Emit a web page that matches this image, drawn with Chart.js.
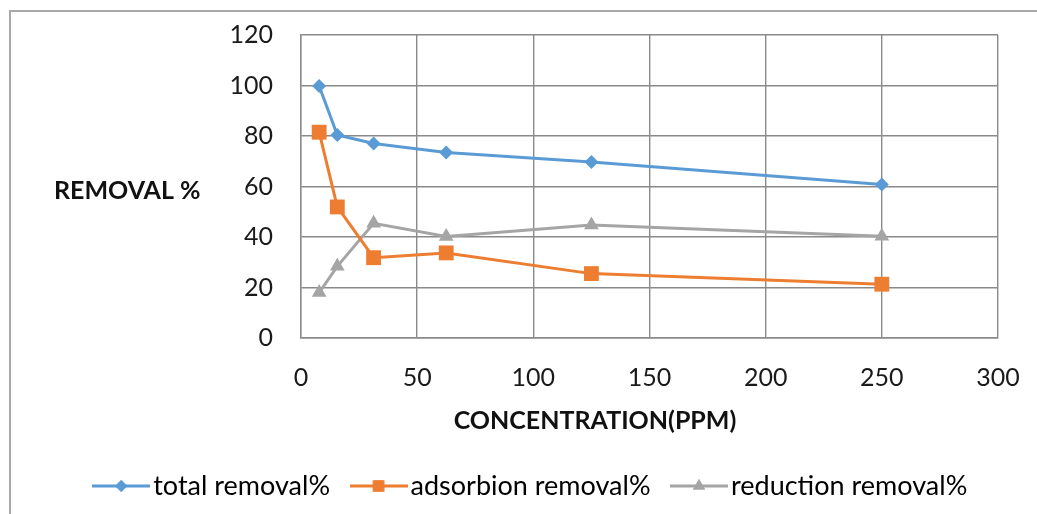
<!DOCTYPE html>
<html>
<head>
<meta charset="utf-8">
<script src="https://cdn.jsdelivr.net/npm/chart.js@4.4.1/dist/chart.umd.min.js"></script>
<style>
    html, body { margin: 0; padding: 0; background: #fff; }
    #wrap { position: relative; width: 1037px; height: 514px; }
</style>
</head>
<body>
<div id="wrap"><canvas id="chart" width="1037" height="514"></canvas></div>
<script>
// concentration (ppm) and removal percentages
const concentration = [7.8125, 15.625, 31.25, 62.5, 125, 250];
const totalRemoval = [99.8, 80.4, 77, 73.5, 69.7, 60.8];
const adsorbionRemoval = [81.5, 51.9, 31.8, 33.7, 25.5, 21.3];
const reductionRemoval = [18, 28.4, 45.4, 40.2, 44.8, 40.3];

const xTicks = [0, 50, 100, 150, 200, 250, 300];
const yTicks = [0, 20, 40, 60, 80, 100, 120];

const seriesNames = ["total removal%", "adsorbion removal%", "reduction removal%"];
const xTitle = "CONCENTRATION(PPM)";
const yTitle = "REMOVAL %";
const colors = ["#5B9BD5", "#ED7D31", "#A5A5A5"];
const markers = ["rectRot", "rect", "triangle"];
const markerSizes = [7, 10.5, 8.5];
const legendMarkerSizes = [6, 8, 7];

const FONT = "Lato, 'Liberation Sans', sans-serif";
const GRID = "#8a8a8a";

// legend swatch: short line with the series marker in the middle
function legendSwatch(color, style, r) {
    const c = document.createElement("canvas");
    c.width = 58; c.height = 18;
    const g = c.getContext("2d");
    g.strokeStyle = color;
    g.lineWidth = 3;
    g.beginPath(); g.moveTo(0, 9); g.lineTo(58, 9); g.stroke();
    g.fillStyle = color;
    Chart.helpers.drawPoint(g, { pointStyle: style, radius: r, borderWidth: 0 }, 29, 9);
    g.fill();
    return c;
}

// outer frame plus both axis titles (the y title sits horizontally, left of the ticks)
const frameAndTitles = {
    id: "frameAndTitles",
    afterDraw(chart) {
        const ctx = chart.ctx;
        ctx.save();
        ctx.strokeStyle = "#a8a8a8";
        ctx.lineWidth = 2;
        ctx.strokeRect(10, 11, 1200, 700);
        ctx.fillStyle = "#111";
        ctx.font = "bold 25px " + FONT;
        ctx.textBaseline = "middle";
        ctx.textAlign = "left";
        ctx.fillText(yTitle, 54, 191);
        ctx.textAlign = "center";
        ctx.fillText(xTitle, 595, 421);
        ctx.restore();
    }
};

const datasets = [totalRemoval, adsorbionRemoval, reductionRemoval].map((vals, i) => ({
    label: seriesNames[i],
    data: vals.map((v, k) => ({ x: concentration[k], y: v })),
    borderColor: colors[i],
    backgroundColor: colors[i],
    borderWidth: 3,
    pointStyle: markers[i],
    pointRadius: markerSizes[i],
    pointBorderWidth: 0,
    tension: 0,
}));

new Chart(document.getElementById("chart"), {
    type: "line",
    data: { datasets },
    options: {
        responsive: false,
        animation: false,
        layout: { padding: { top: 35, right: 39, left: 72, bottom: 4.5 } },
        plugins: {
            tooltip: { enabled: false },
            legend: {
                position: "bottom",
                labels: {
                    usePointStyle: true,
                    pointStyleWidth: 37,
                    padding: 30,
                    color: "#1a1a1a",
                    font: { family: FONT, size: 27 },
                    generateLabels: chart => chart.data.datasets.map((ds, i) => ({
                        text: ds.label,
                        pointStyle: legendSwatch(colors[i], markers[i], legendMarkerSizes[i]),
                        fillStyle: colors[i],
                        strokeStyle: colors[i],
                        lineWidth: 0,
                        datasetIndex: i,
                    })),
                },
            },
        },
        scales: {
            x: {
                type: "linear",
                min: xTicks[0],
                max: xTicks[xTicks.length - 1],
                afterBuildTicks: s => { s.ticks = xTicks.map(v => ({ value: v })); },
                afterFit: s => { s.height = 104.5; s.paddingLeft = 0; s.paddingRight = 0; },
                grid: { color: GRID, lineWidth: 1.4, drawTicks: false },
                border: { color: GRID, width: 1.4 },
                ticks: { padding: 25, color: "#1a1a1a", font: { family: FONT, size: 25 } },
            },
            y: {
                min: yTicks[0],
                max: yTicks[yTicks.length - 1],
                afterBuildTicks: s => { s.ticks = yTicks.map(v => ({ value: v })); },
                afterFit: s => { s.width = 229; s.paddingTop = 0; s.paddingBottom = 0; },
                grid: { color: GRID, lineWidth: 1.4, drawTicks: false },
                border: { color: GRID, width: 1.4 },
                ticks: { padding: 28, color: "#1a1a1a", font: { family: FONT, size: 25 } },
            },
        },
    },
    plugins: [frameAndTitles],
});
</script>
</body>
</html>
